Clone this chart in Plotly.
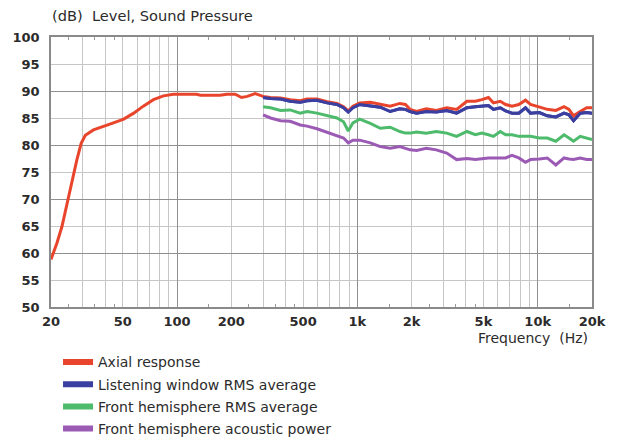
import plotly.graph_objects as go

# ---------------- data ----------------
freq_low = [20, 21.6, 23.0, 24.5, 26.1, 27.8, 29.4, 31.0, 34.4, 39.0, 44.4, 50.6, 57.5, 65.0,
            74.0, 84.0, 95.5, 104, 128, 135, 173, 189, 210, 228, 245, 271, 289]
axial_low = [58.8, 61.9, 64.9, 69.2, 72.9, 77.2, 80.3, 81.8, 82.8, 83.4, 84.1, 84.8, 85.9, 87.2,
             88.4, 89.1, 89.4, 89.4, 89.4, 89.2, 89.2, 89.4, 89.4, 88.8, 89.0, 89.5, 89.2]

freq_hi = [300, 330, 375, 424, 482, 526, 597, 680, 770, 838, 890, 945, 1030, 1180, 1340, 1520,
           1720, 1846, 1960, 2130, 2410, 2740, 3130, 3550, 4050, 4510, 4900, 5330, 5680, 6200,
           6640, 7200, 7850, 8550, 9120, 10200, 11300, 12600, 14000, 14900, 15800, 17200, 18700, 20000]
axial_hi = [89.0, 88.8, 88.7, 88.4, 88.2, 88.5, 88.5, 88.0, 87.7, 87.1, 86.3, 87.2, 87.8, 87.9, 87.5, 87.2,
            87.7, 87.5, 86.6, 86.2, 86.7, 86.4, 86.9, 86.6, 88.1, 88.1, 88.4, 88.8, 87.8, 88.1,
            87.5, 87.2, 87.5, 88.3, 87.5, 87.1, 86.6, 86.4, 87.1, 86.6, 85.4, 86.2, 86.9, 86.9]
listening = [88.8, 88.6, 88.5, 88.1, 87.9, 88.2, 88.3, 87.8, 87.5, 86.9, 86.1, 86.9, 87.5, 87.2, 87.0, 86.2,
             86.7, 86.6, 86.2, 85.9, 86.2, 86.1, 86.4, 85.9, 86.9, 87.1, 87.2, 87.3, 86.6, 86.9,
             86.3, 85.9, 85.9, 86.9, 85.9, 86.0, 85.4, 85.2, 85.9, 85.6, 84.5, 85.9, 86.0, 85.9]
hemisphere = [87.1, 86.9, 86.4, 86.5, 85.9, 86.2, 85.9, 85.4, 85.0, 84.3, 82.6, 84.1, 84.8, 84.0, 83.1, 83.3,
              82.5, 82.2, 82.2, 82.4, 82.2, 82.5, 82.2, 81.6, 82.5, 81.9, 82.2, 81.9, 81.6, 82.5,
              81.9, 81.9, 81.6, 81.6, 81.6, 81.3, 81.3, 80.7, 81.9, 81.3, 80.7, 81.6, 81.3, 81.0]
power = [85.6, 85.0, 84.5, 84.4, 83.7, 83.5, 83.0, 82.4, 81.8, 81.3, 80.4, 80.9, 80.9, 80.4, 79.7, 79.4,
         79.7, 79.3, 79.1, 79.0, 79.4, 79.1, 78.5, 77.3, 77.5, 77.3, 77.5, 77.6, 77.6, 77.6,
         77.6, 78.1, 77.6, 76.8, 77.3, 77.4, 77.6, 76.3, 77.6, 77.4, 77.3, 77.6, 77.3, 77.3]

series_names = ["Axial response", "Listening window RMS average",
                "Front hemisphere RMS average", "Front hemisphere acoustic power"]
series_colors = ["#e8452c", "#3b3fa0", "#4dbb6b", "#9b5bb5"]

grid_freqs = [20, 30, 40, 50, 60, 70, 80, 90,
              100, 200, 300, 400, 500, 600, 700, 800, 900,
              1000, 2000, 3000, 4000, 5000, 6000, 7000, 8000, 9000, 10000, 20000]
label_freqs = {20: "20", 50: "50", 100: "100", 200: "200", 500: "500", 1000: "1k",
               2000: "2k", 5000: "5k", 10000: "10k", 20000: "20k"}
major_freqs = [100, 1000, 10000]
half_freqs = [25, 35, 45, 150, 250, 350, 450, 1500, 2500, 3500, 4500, 15000]
y_ticks = [50, 55, 60, 65, 70, 75, 80, 85, 90, 95, 100]
y_major = [60, 70, 80, 90]

FONT = "DejaVu Sans"
TXT = "#2b2b2b"

fig = go.Figure()

plot_data = [
    (freq_hi, power, 3),
    (freq_hi, hemisphere, 2),
    (freq_hi, listening, 1),
]
for fx, fy, i in plot_data:
    fig.add_trace(go.Scatter(x=fx, y=fy, mode="lines", showlegend=False,
                             line=dict(color=series_colors[i], width=3)))
fig.add_trace(go.Scatter(x=freq_low + freq_hi, y=axial_low + axial_hi, mode="lines",
                         showlegend=False, line=dict(color=series_colors[0], width=3)))
fig.add_trace(go.Scatter(x=freq_hi, y=listening, mode="lines", showlegend=False,
                         line=dict(color=series_colors[1], width=3)))

# legend entries
for i, name in enumerate(series_names):
    fig.add_trace(go.Scatter(x=[None], y=[None], mode="lines", name=name,
                             legendgroup=str(i),
                             line=dict(color=series_colors[i], width=6)))

# empty trace for overlay axes (darker major grid)
fig.add_trace(go.Scatter(x=[], y=[], xaxis="x2", yaxis="y2", showlegend=False,
                         hoverinfo="skip"))

xr = [1.30103, 4.30103]
fig.update_layout(
    width=611, height=440,
    margin=dict(l=43, r=27, t=29, b=141, autoexpand=False),
    paper_bgcolor="white", plot_bgcolor="white",
    font=dict(family=FONT, size=14, color=TXT),
    xaxis=dict(type="log", range=xr, tickmode="array", tickvals=grid_freqs,
               ticktext=[label_freqs.get(f, "") for f in grid_freqs],
               showgrid=True, gridcolor="#c6c6c6", gridwidth=1,
               ticks="", ticklabelstandoff=2,
               tickfont=dict(family=FONT, size=13, color=TXT, weight="bold"),
               showline=True, mirror="ticks", linecolor="#8a8a8a", linewidth=1.5,
               minor=dict(tickmode="array", tickvals=half_freqs, ticks="inside",
                          ticklen=3, tickcolor="#9a9a9a", showgrid=False),
               zeroline=False, fixedrange=True),
    yaxis=dict(range=[50, 100], tickmode="array", tickvals=y_ticks,
               showgrid=True, gridcolor="#c6c6c6", gridwidth=1,
               ticks="", ticklabelstandoff=7,
               tickfont=dict(family=FONT, size=13, color=TXT, weight="bold"),
               showline=True, mirror=True, linecolor="#8a8a8a", linewidth=1.5,
               zeroline=False, fixedrange=True),
    xaxis2=dict(type="log", range=xr, overlaying="x", tickmode="array",
                tickvals=major_freqs, showticklabels=False, ticks="",
                showgrid=True, gridcolor="#8f8f8f", gridwidth=1.2, zeroline=False,
                showline=False),
    yaxis2=dict(range=[50, 100], overlaying="y", tickmode="array", tickvals=y_major,
                showticklabels=False, ticks="", showgrid=True, gridcolor="#8f8f8f",
                gridwidth=1.2, zeroline=False, showline=False),
    legend=dict(x=0.013, y=-0.146, xanchor="left", yanchor="top",
                traceorder="grouped", tracegroupgap=1,
                font=dict(family=FONT, size=14, color=TXT),
                bgcolor="rgba(0,0,0,0)"),
    annotations=[
        dict(text="(dB)\u00a0 Level, Sound Pressure", xref="paper", yref="paper",
             x=-0.002, y=1.078, xanchor="left", yanchor="middle", showarrow=False,
             font=dict(family=FONT, size=14.6, color=TXT)),
        dict(text="Frequency\u00a0 (Hz)", xref="paper", yref="paper",
             x=0.997, y=-0.115, xanchor="right", yanchor="middle", showarrow=False,
             font=dict(family=FONT, size=14, color=TXT)),
    ],
    showlegend=True,
)

fig.write_html("out.html")
